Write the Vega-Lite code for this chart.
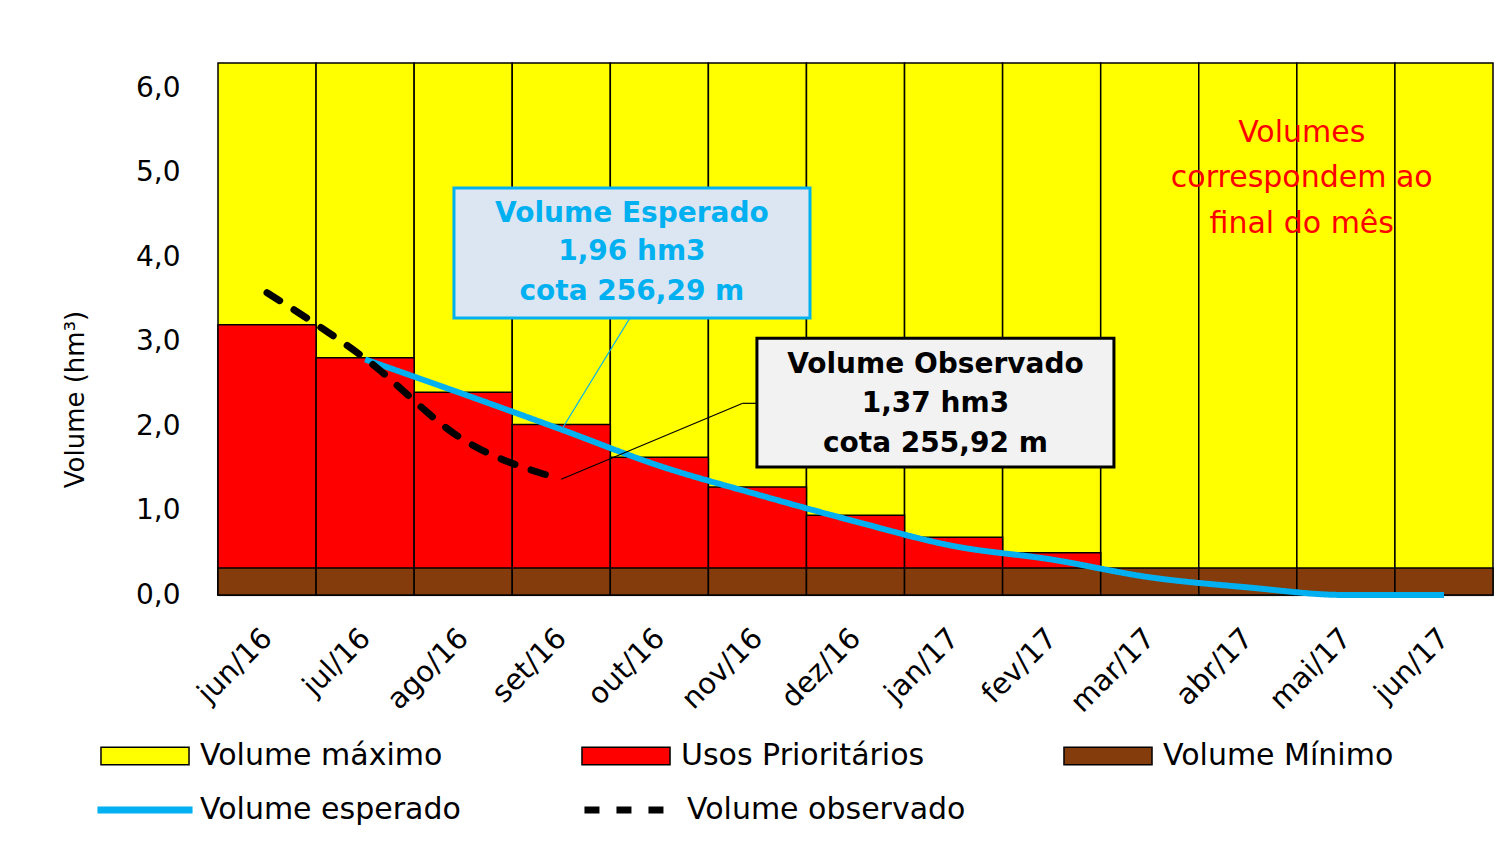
{
  "$schema": "https://vega.github.io/schema/vega-lite/v6.json",
  "width": 1275,
  "height": 532,
  "autosize": {"type": "none"},
  "padding": {"left": 218, "top": 63, "right": 18, "bottom": 251},
  "background": "white",
  "config": {
    "font": "DejaVu Sans",
    "view": {"stroke": null}
  },
  "datasets": {
    "meses": [
      {"i": 0, "mes": "jun/16", "max": 6.3, "usos": 3.20, "min": 0.32, "esperado": null, "observado": 3.58},
      {"i": 1, "mes": "jul/16", "max": 6.3, "usos": 2.81, "min": 0.32, "esperado": 2.79, "observado": 2.80},
      {"i": 2, "mes": "ago/16", "max": 6.3, "usos": 2.40, "min": 0.32, "esperado": 2.38, "observado": 1.84},
      {"i": 3, "mes": "set/16", "max": 6.3, "usos": 2.02, "min": 0.32, "esperado": 1.96, "observado": 1.37},
      {"i": 4, "mes": "out/16", "max": 6.3, "usos": 1.63, "min": 0.32, "esperado": 1.53, "observado": null},
      {"i": 5, "mes": "nov/16", "max": 6.3, "usos": 1.28, "min": 0.32, "esperado": 1.19, "observado": null},
      {"i": 6, "mes": "dez/16", "max": 6.3, "usos": 0.945, "min": 0.32, "esperado": 0.87, "observado": null},
      {"i": 7, "mes": "jan/17", "max": 6.3, "usos": 0.685, "min": 0.32, "esperado": 0.58, "observado": null},
      {"i": 8, "mes": "fev/17", "max": 6.3, "usos": 0.50, "min": 0.32, "esperado": 0.42, "observado": null},
      {"i": 9, "mes": "mar/17", "max": 6.3, "usos": null, "min": 0.32, "esperado": 0.21, "observado": null},
      {"i": 10, "mes": "abr/17", "max": 6.3, "usos": null, "min": 0.32, "esperado": 0.09, "observado": null},
      {"i": 11, "mes": "mai/17", "max": 6.3, "usos": null, "min": 0.32, "esperado": 0.0, "observado": null},
      {"i": 12, "mes": "jun/17", "max": 6.3, "usos": null, "min": 0.32, "esperado": 0.0, "observado": null}
    ],
    "caixas": [
      {"box": "esp", "x1": 1.906, "x2": 5.536, "y1": 3.28, "y2": 4.82},
      {"box": "obs", "x1": 4.995, "x2": 8.635, "y1": 1.516, "y2": 3.04}
    ],
    "textos": [
      {"box": "esp", "x": 3.72, "y": 4.51, "t": "Volume Esperado"},
      {"box": "esp", "x": 3.72, "y": 4.06, "t": "1,96 hm3"},
      {"box": "esp", "x": 3.72, "y": 3.59, "t": "cota 256,29 m"},
      {"box": "obs", "x": 6.815, "y": 2.72, "t": "Volume Observado"},
      {"box": "obs", "x": 6.815, "y": 2.26, "t": "1,37 hm3"},
      {"box": "obs", "x": 6.815, "y": 1.79, "t": "cota 255,92 m"}
    ],
    "guias": [
      {"grp": "esp", "x": 3.70, "y": 3.28, "x2": 3.02, "y2": 1.99},
      {"grp": "obs", "x": 3.0, "y": 1.37, "x2": 4.85, "y2": 2.27},
      {"grp": "obs", "x": 4.85, "y": 2.27, "x2": 4.995, "y2": 2.27}
    ],
    "nota": [
      {"x": 10.55, "y": 5.47, "t": "Volumes"},
      {"x": 10.55, "y": 4.94, "t": "correspondem ao"},
      {"x": 10.55, "y": 4.39, "t": "final do mês"}
    ]
  },
  "data": {"name": "meses"},
  "layer": [
    {
      "mark": {"type": "bar", "orient": "vertical", "width": {"expr": "width/13"}, "stroke": "black", "strokeWidth": 1.5},
      "encoding": {
        "x": {
          "field": "i", "type": "quantitative",
          "scale": {"domain": [-0.5, 12.5], "nice": false, "zero": false, "padding": 0},
          "axis": {
            "title": null,
            "values": [0,1,2,3,4,5,6,7,8,9,10,11,12],
            "labelExpr": "['jun/16','jul/16','ago/16','set/16','out/16','nov/16','dez/16','jan/17','fev/17','mar/17','abr/17','mai/17','jun/17'][datum.value]",
            "labelAngle": -45,
            "labelAlign": "right",
            "labelBaseline": "middle",
            "labelFontSize": 29,
            "labelColor": "black",
            "labelPadding": 38,
            "labelFlush": false,
            "labelOverlap": false,
            "ticks": false,
            "grid": false,
            "domainColor": "#d9d9d9",
            "domainWidth": 2
          }
        },
        "y": {
          "field": "max", "type": "quantitative", "stack": null,
          "scale": {"domain": [0, 6.3], "nice": false},
          "axis": {
            "title": "Volume (hm³)",
            "titleFontSize": 26,
            "titleFontWeight": "normal",
            "titleColor": "black",
            "titleX": -143,
            "titleY": 336,
            "titleAngle": -90,
            "titleAlign": "center",
            "titleBaseline": "middle",
            "values": [0,1,2,3,4,5,6],
            "labelExpr": "replace(format(datum.value, '.1f'), '.', ',')",
            "labelFontSize": 28,
            "labelColor": "black",
            "labelPadding": 38,
            "ticks": false,
            "domain": false,
            "grid": false
          }
        },
        "fill": {
          "datum": "Volume máximo",
          "scale": {
            "domain": ["Volume máximo", "Usos Prioritários", "Volume Mínimo"],
            "range": ["#ffff00", "#ff0000", "#843c0c"]
          },
          "legend": {
            "title": null,
            "orient": "none",
            "direction": "horizontal",
            "legendX": -88,
            "legendY": 678,
            "columns": 3,
            "columnPadding": 135,
            "symbolType": "M-5,-1H5V1H-5Z",
            "symbolSize": 310,
            "symbolStrokeColor": "black",
            "symbolStrokeWidth": 1.5,
            "labelFontSize": 30,
            "labelColor": "black",
            "labelOffset": 40,
            "labelLimit": 600
          }
        }
      }
    },
    {
      "transform": [{"filter": "isValid(datum.usos)"}],
      "mark": {"type": "bar", "orient": "vertical", "width": {"expr": "width/13"}, "stroke": "black", "strokeWidth": 1.5},
      "encoding": {
        "x": {"field": "i", "type": "quantitative"},
        "y": {"field": "usos", "type": "quantitative", "stack": null},
        "fill": {"datum": "Usos Prioritários"}
      }
    },
    {
      "mark": {"type": "bar", "orient": "vertical", "width": {"expr": "width/13"}, "stroke": "black", "strokeWidth": 1.5},
      "encoding": {
        "x": {"field": "i", "type": "quantitative"},
        "y": {"field": "min", "type": "quantitative", "stack": null},
        "fill": {"datum": "Volume Mínimo"}
      }
    },
    {
      "transform": [{"filter": "isValid(datum.esperado)"}],
      "mark": {"type": "line", "strokeWidth": 6, "interpolate": "monotone"},
      "encoding": {
        "x": {"field": "i", "type": "quantitative"},
        "y": {"field": "esperado", "type": "quantitative"},
        "stroke": {
          "datum": "Volume esperado",
          "scale": {"domain": ["Volume esperado", "Volume observado"], "range": ["#00b0f0", "#000000"]},
          "legend": {
            "title": null,
            "orient": "none",
            "direction": "horizontal",
            "legendX": -88,
            "legendY": 732,
            "columns": 2,
            "columnPadding": 109,
            "symbolType": "M-5.4,0H5.4",
            "symbolSize": 310,
            "symbolStrokeWidth": 7,
            "labelFontSize": 30,
            "labelColor": "black",
            "labelOffset": 40,
            "labelLimit": 600
          }
        },
        "strokeDash": {
          "datum": "Volume esperado",
          "scale": {"domain": ["Volume esperado", "Volume observado"], "range": [[1, 0], [15, 17]]},
          "legend": {
            "title": null,
            "orient": "none",
            "direction": "horizontal",
            "legendX": -88,
            "legendY": 732,
            "columns": 2,
            "columnPadding": 109,
            "symbolType": "M-5.4,0H5.4",
            "symbolSize": 310,
            "symbolStrokeWidth": 7,
            "labelFontSize": 30,
            "labelColor": "black",
            "labelOffset": 40,
            "labelLimit": 600
          }
        }
      }
    },
    {
      "transform": [{"filter": "isValid(datum.observado)"}],
      "mark": {"type": "line", "strokeWidth": 7, "interpolate": "monotone", "strokeCap": "round"},
      "encoding": {
        "x": {"field": "i", "type": "quantitative"},
        "y": {"field": "observado", "type": "quantitative"},
        "stroke": {"datum": "Volume observado"},
        "strokeDash": {"datum": "Volume observado"}
      }
    },
    {
      "data": {"name": "guias"},
      "transform": [{"filter": "datum.grp === 'esp'"}],
      "mark": {"type": "rule", "color": "#00b0f0", "strokeWidth": 1.2},
      "encoding": {
        "x": {"field": "x", "type": "quantitative"},
        "y": {"field": "y", "type": "quantitative"},
        "x2": {"field": "x2"},
        "y2": {"field": "y2"}
      }
    },
    {
      "data": {"name": "guias"},
      "transform": [{"filter": "datum.grp === 'obs'"}],
      "mark": {"type": "rule", "color": "black", "strokeWidth": 1.2},
      "encoding": {
        "x": {"field": "x", "type": "quantitative"},
        "y": {"field": "y", "type": "quantitative"},
        "x2": {"field": "x2"},
        "y2": {"field": "y2"}
      }
    },
    {
      "data": {"name": "caixas"},
      "transform": [{"filter": "datum.box === 'esp'"}],
      "mark": {"type": "rect", "fill": "#dce6f2", "stroke": "#00b0f0", "strokeWidth": 3},
      "encoding": {
        "x": {"field": "x1", "type": "quantitative"},
        "x2": {"field": "x2"},
        "y": {"field": "y1", "type": "quantitative"},
        "y2": {"field": "y2"}
      }
    },
    {
      "data": {"name": "caixas"},
      "transform": [{"filter": "datum.box === 'obs'"}],
      "mark": {"type": "rect", "fill": "#f2f2f2", "stroke": "black", "strokeWidth": 3},
      "encoding": {
        "x": {"field": "x1", "type": "quantitative"},
        "x2": {"field": "x2"},
        "y": {"field": "y1", "type": "quantitative"},
        "y2": {"field": "y2"}
      }
    },
    {
      "data": {"name": "textos"},
      "transform": [{"filter": "datum.box === 'esp'"}],
      "mark": {"type": "text", "fontSize": 28, "fontWeight": "bold", "color": "#00b0f0", "align": "center", "baseline": "middle"},
      "encoding": {
        "x": {"field": "x", "type": "quantitative"},
        "y": {"field": "y", "type": "quantitative"},
        "text": {"field": "t"}
      }
    },
    {
      "data": {"name": "textos"},
      "transform": [{"filter": "datum.box === 'obs'"}],
      "mark": {"type": "text", "fontSize": 28, "fontWeight": "bold", "color": "black", "align": "center", "baseline": "middle"},
      "encoding": {
        "x": {"field": "x", "type": "quantitative"},
        "y": {"field": "y", "type": "quantitative"},
        "text": {"field": "t"}
      }
    },
    {
      "data": {"name": "nota"},
      "mark": {"type": "text", "fontSize": 30, "color": "#ff0000", "align": "center", "baseline": "middle"},
      "encoding": {
        "x": {"field": "x", "type": "quantitative"},
        "y": {"field": "y", "type": "quantitative"},
        "text": {"field": "t"}
      }
    }
  ]
}
